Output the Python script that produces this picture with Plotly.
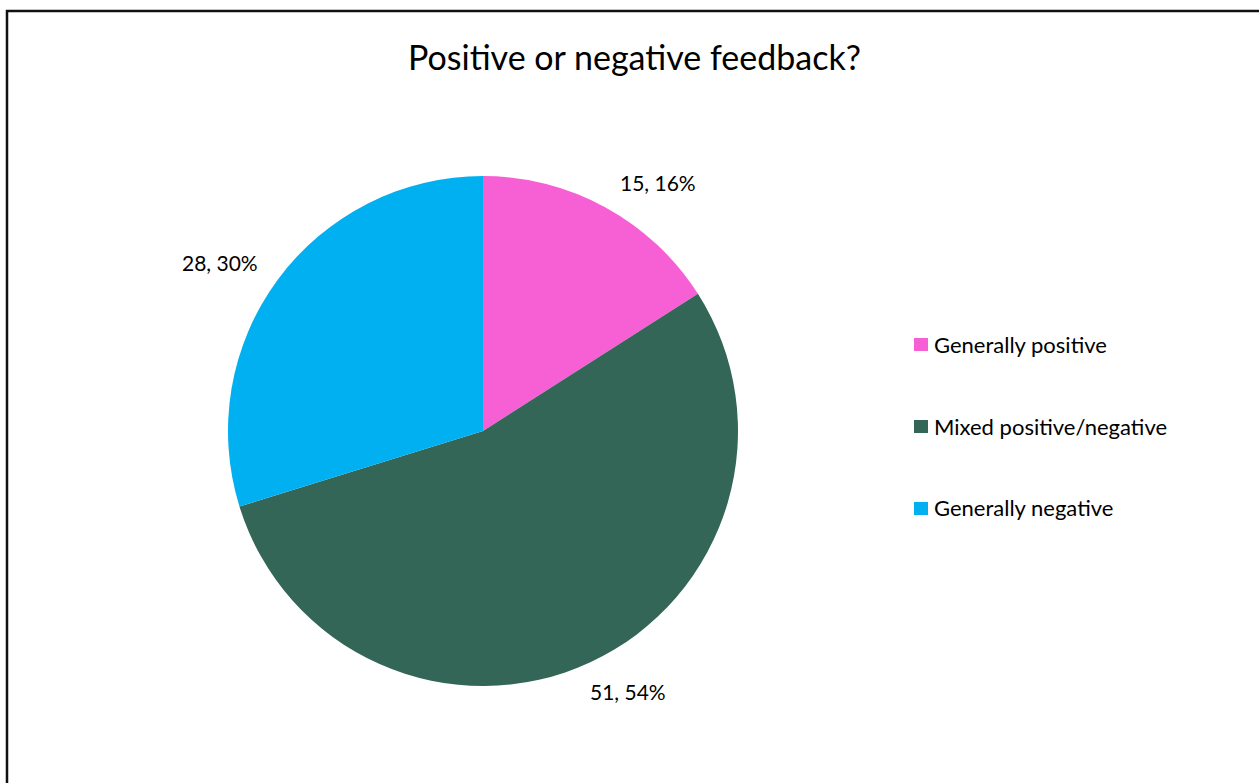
import plotly.graph_objects as go

labels = ["Generally positive", "Mixed positive/negative", "Generally negative"]
values = [15, 51, 28]
colors = ["#F75FD5", "#336656", "#00B0F0"]
title = "Positive or negative feedback?"

W, H = 1259, 783
FONT = "Lato"

def px(x):
    return x / W

def py(y):
    return 1 - y / H

total = sum(values)
label_pos = [(658, 182), (628, 691), (220, 262)]

fig = go.Figure(go.Pie(
    labels=labels, values=values, sort=False, direction="clockwise", rotation=0,
    marker=dict(colors=colors, line=dict(width=0)),
    textinfo="none", hoverinfo="label+value+percent", showlegend=False,
    domain=dict(x=[px(228), px(738)], y=[py(686), py(176)]),
))

annotations = [dict(text=title, x=px(634), y=py(57), xref="paper", yref="paper",
                    showarrow=False, font=dict(family=FONT, size=34, color="#000"),
                    xanchor="center", yanchor="middle")]
for (x, y), v in zip(label_pos, values):
    annotations.append(dict(text=f"{v}, {round(100 * v / total)}%", x=px(x), y=py(y),
                            xref="paper", yref="paper", showarrow=False,
                            font=dict(family=FONT, size=21, color="#000"),
                            xanchor="center", yanchor="middle"))

shapes = [dict(type="rect", xref="paper", yref="paper", x0=px(7), x1=1.02, y0=-0.02, y1=py(11),
               line=dict(color="#111", width=2.5), fillcolor="rgba(0,0,0,0)")]

legend_y = [344, 426, 508]
for lab, col, y in zip(labels, colors, legend_y):
    shapes.append(dict(type="rect", xref="paper", yref="paper",
                       x0=px(914), x1=px(928), y0=py(y + 7), y1=py(y - 6),
                       fillcolor=col, line=dict(width=0)))
    annotations.append(dict(text=lab, x=px(932), y=py(y), xref="paper", yref="paper",
                            showarrow=False, font=dict(family=FONT, size=22, color="#000"),
                            xanchor="left", yanchor="middle"))

fig.update_layout(width=W, height=H, margin=dict(l=0, r=0, t=0, b=0),
                  paper_bgcolor="white", plot_bgcolor="white",
                  annotations=annotations, shapes=shapes, showlegend=False)

fig.write_html("out.html")
